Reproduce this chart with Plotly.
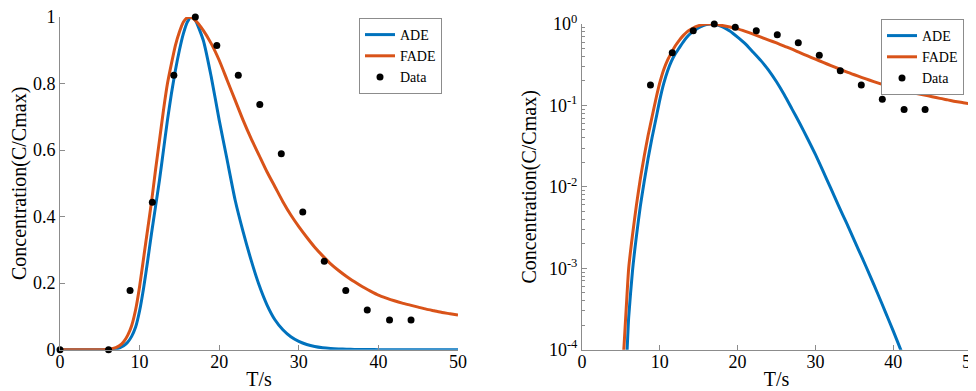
import plotly.graph_objects as go
from plotly.subplots import make_subplots

# ---- data ----
t_model = [0, 1, 2, 3, 4, 5, 5.4, 5.8, 6, 6.5, 7, 7.5, 8, 8.5, 9, 9.5, 10, 10.5, 11, 11.5,
           12, 12.5, 13, 13.5, 14, 14.5, 15, 15.5, 16, 16.5, 17, 18, 19, 20, 21, 22, 23, 24,
           25, 26, 27, 28, 29, 30, 31, 32, 33, 34, 35, 36, 37, 38, 39, 40, 41, 42, 43, 44,
           45, 46, 47, 48, 49, 50]

ade = [0, 0, 0, 0, 0, 1e-6, 2e-5, 1e-4, 2.5e-4, 9.5e-4, 0.0025, 0.0058, 0.0117, 0.0224, 0.040,
       0.068, 0.117, 0.185, 0.265, 0.35, 0.43, 0.51, 0.60, 0.69, 0.77, 0.84, 0.90, 0.95, 0.985,
       1.0, 0.99, 0.93, 0.82, 0.69, 0.57, 0.45, 0.355, 0.27, 0.195, 0.135, 0.09, 0.06, 0.039,
       0.025, 0.0155, 0.0095, 0.0058, 0.0036, 0.0022, 0.00135, 8.2e-4, 4.9e-4, 2.9e-4, 1.7e-4,
       9.8e-5, 5.7e-5, 3.4e-5, 2.0e-5, 1.2e-5, 7e-6, 4e-6, 2.4e-6, 1.4e-6, 8e-7]

fade = [0, 0, 0, 0, 0, 2.5e-5, 1.1e-4, 5e-4, 1.0e-3, 2.6e-3, 6.0e-3, 0.0126, 0.024, 0.043, 0.072,
        0.12, 0.19, 0.275, 0.36, 0.445, 0.54, 0.63, 0.72, 0.80, 0.86, 0.915, 0.955, 0.985, 0.998,
        0.998, 0.99, 0.96, 0.92, 0.87, 0.81, 0.75, 0.69, 0.635, 0.585, 0.535, 0.49, 0.445, 0.405,
        0.37, 0.338, 0.308, 0.282, 0.258, 0.238, 0.22, 0.204, 0.189, 0.176, 0.164, 0.155, 0.147,
        0.14, 0.134, 0.128, 0.122, 0.117, 0.112, 0.108, 0.104]

t_data = [0, 6.1, 8.8, 11.6, 14.3, 17.0, 19.7, 22.4, 25.1, 27.8, 30.5, 33.2, 35.9, 38.6, 41.4, 44.1]
c_data = [0, 0, 0.178, 0.443, 0.825, 1.0, 0.914, 0.825, 0.737, 0.589, 0.414, 0.266, 0.178,
          0.119, 0.089, 0.089]

x_ticks = [0, 10, 20, 30, 40, 50]
y_lin_ticks = [0, 0.2, 0.4, 0.6, 0.8, 1]
y_lin_labels = ["0", "0.2", "0.4", "0.6", "0.8", "1"]
y_log_ticks = [1e-4, 1e-3, 1e-2, 1e-1, 1]
y_log_labels = ["10<sup>-4</sup>", "10<sup>-3</sup>", "10<sup>-2</sup>", "10<sup>-1</sup>", "10<sup>0</sup>"]

BLUE = "#0072BD"
RED = "#D95319"
GRAY = "#8c8c8c"
FONT = "Liberation Serif, Times New Roman, serif"

fig = make_subplots(rows=1, cols=2)

for col, leg in [(1, "legend"), (2, "legend2")]:
    fig.add_trace(go.Scatter(x=t_model, y=ade, mode="lines", name="ADE",
                             line=dict(color=BLUE, width=3, shape="spline", smoothing=0.6),
                             legend=leg), row=1, col=col)
    fig.add_trace(go.Scatter(x=t_model, y=fade, mode="lines", name="FADE",
                             line=dict(color=RED, width=3, shape="spline", smoothing=0.6),
                             legend=leg), row=1, col=col)
    fig.add_trace(go.Scatter(x=t_data, y=c_data, mode="markers", name="Data",
                             marker=dict(color="black", size=7), cliponaxis=False,
                             legend=leg), row=1, col=col)

axis_common = dict(showline=True, linecolor=GRAY, linewidth=1, ticks="inside", ticklen=5,
                   tickcolor=GRAY, showgrid=False, zeroline=False, mirror=False,
                   automargin=False, ticklabeloverflow="allow",
                   tickfont=dict(family=FONT, size=18, color="black"))
title_font = dict(family=FONT, size=20, color="black")

fig.update_layout(
    width=976, height=391, margin=dict(l=0, r=0, t=0, b=0, autoexpand=False),
    paper_bgcolor="white", plot_bgcolor="white",
    font=dict(family=FONT, color="black"),
    xaxis=dict(domain=[52 / 976, 450 / 976], range=[0, 50], tickvals=x_ticks,
               ticklabelstandoff=-4,
               title=dict(text="T/s", font=title_font, standoff=0), **axis_common),
    yaxis=dict(domain=[1 - 341.7 / 391, 1 - 9 / 391], range=[0, 1], tickvals=y_lin_ticks,
               ticktext=y_lin_labels,
               title=dict(text="Concentration(C/Cmax)", font=title_font, standoff=6),
               **axis_common),
    xaxis2=dict(domain=[574 / 976, 963 / 976], range=[0, 50], tickvals=x_ticks,
                ticklabelstandoff=-4,
                title=dict(text="T/s", font=title_font, standoff=0), **axis_common),
    yaxis2=dict(domain=[1 - 341.7 / 391, 1 - 16 / 391], type="log", range=[-4, 0],
                tickvals=y_log_ticks, ticktext=y_log_labels,
                minor=dict(ticks="inside", ticklen=3, tickcolor=GRAY, dtick="D1"),
                title=dict(text="Concentration(C/Cmax)", font=title_font, standoff=6),
                **axis_common),
    legend=dict(x=351 / 976, y=1 - 10 / 391, xanchor="left", yanchor="top",
                bgcolor="white", bordercolor=GRAY, borderwidth=1,
                font=dict(family=FONT, size=14), itemwidth=30, tracegroupgap=0),
    legend2=dict(x=873 / 976, y=1 - 11 / 391, xanchor="left", yanchor="top",
                 bgcolor="white", bordercolor=GRAY, borderwidth=1,
                 font=dict(family=FONT, size=14), itemwidth=30, tracegroupgap=0),
)

fig.write_html("out.html")
